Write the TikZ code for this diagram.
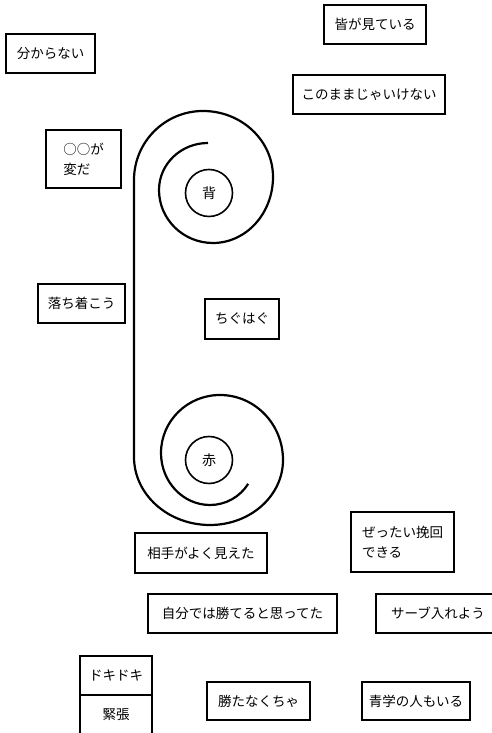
\documentclass[tikz,border=0pt]{standalone}
\usepackage{fontspec}
\setmainfont{Noto Sans CJK JP}
\begin{document}
\begin{tikzpicture}[x=1pt,y=1pt,
  lbl/.style={draw,line width=1.1pt,inner sep=0pt,font=\fontsize{13.5}{20}\selectfont,align=left},
  core/.style={draw,circle,line width=1.6pt,minimum size=47pt,inner sep=0pt,font=\fontsize{14}{16}\selectfont},
  spiral/.style={line width=2.2pt}]
\useasboundingbox (0,0) rectangle (491,733);
% labelled boxes
\node[lbl,minimum width=89pt,minimum height=39pt] (wakaranai) at (50.5,679.5) {分からない};
\node[lbl,minimum width=102pt,minimum height=39pt] (minna) at (375,708.5) {皆が見ている};
\node[lbl,minimum width=152pt,minimum height=39pt] (konomama) at (369,638.5) {このままじゃいけない};
\node[lbl,minimum width=75pt,minimum height=58pt] (hen) at (83.5,574) {○○が\\変だ};
\node[lbl,minimum width=87pt,minimum height=39pt] (ochitsuko) at (81.5,429.5) {落ち着こう};
\node[lbl,minimum width=74pt,minimum height=40pt] (chiguhagu) at (242,414) {ちぐはぐ};
\node[lbl,minimum width=132pt,minimum height=40pt] (aite) at (201,180) {相手がよく見えた};
\node[lbl,minimum width=103pt,minimum height=60pt] (bankai) at (402.5,191) {ぜったい挽回\\できる};
\node[lbl,minimum width=189pt,minimum height=39pt] (jibun) at (242.5,119.5) {自分では勝てると思ってた};
\node[lbl,minimum width=124pt,minimum height=39pt] (saabu) at (438,119.5) {サーブ入れよう};
\node[lbl,minimum width=72pt,minimum height=39pt] (dokidoki) at (116,57.5) {ドキドキ};
\node[lbl,minimum width=72pt,minimum height=40pt] (kincho) at (116,18) {緊張};
\node[lbl,minimum width=103pt,minimum height=38pt] (katanaku) at (258.5,32) {勝たなくちゃ};
\node[lbl,minimum width=108pt,minimum height=38pt] (seigaku) at (416,32) {青学の人もいる};
% inner circles
\node[core] (ao) at (209,540) {背};
\node[core] (aka) at (209,273) {赤};
% double spiral
\draw[spiral] (208,590)
  arc[start angle=90,end angle=180,x radius=49,y radius=47]
  arc[start angle=180,end angle=270,x radius=54,y radius=53]
  arc[start angle=270,end angle=360,x radius=60,y radius=66]
  arc[start angle=0,end angle=90,x radius=70,y radius=66]
  arc[start angle=90,end angle=180,x radius=69,y radius=69]
  -- (134,276)
  arc[start angle=180,end angle=270,x radius=76,y radius=68]
  arc[start angle=270,end angle=360,x radius=73,y radius=65]
  arc[start angle=0,end angle=90,x radius=63,y radius=65]
  arc[start angle=90,end angle=180,x radius=59,y radius=58]
  arc[start angle=180,end angle=270,x radius=49,y radius=52]
  arc[start angle=270,end angle=328,radius=45];
\end{tikzpicture}
\end{document}
